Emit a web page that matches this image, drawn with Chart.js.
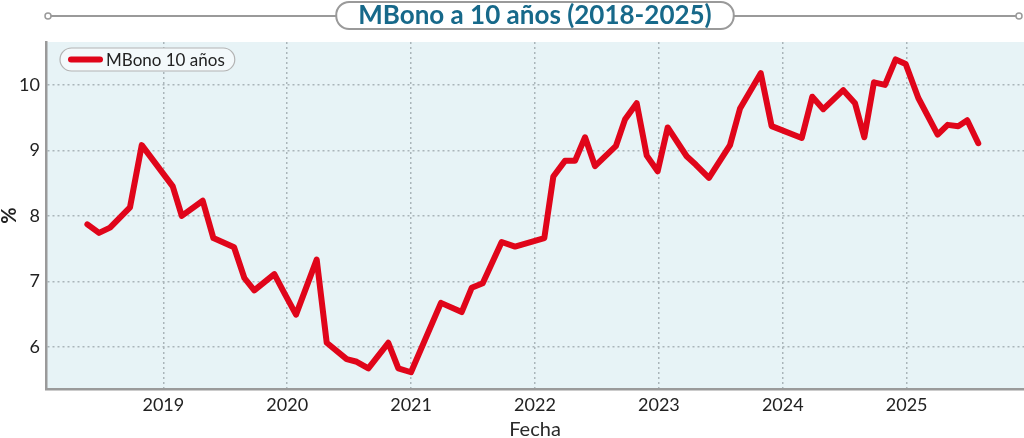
<!DOCTYPE html>
<html>
<head>
<meta charset="utf-8">
<script src="https://cdn.jsdelivr.net/npm/chart.js@4.4.1/dist/chart.umd.min.js"></script>
<style>
  html, body { margin: 0; padding: 0; background: #fff; }
  #wrap { width: 1024px; height: 438px; }
</style>
</head>
<body>
<div id="wrap"><canvas id="mbonoChart"></canvas></div>
<script>
// Datos (fecha en años decimales, rendimiento en %)
const fechas = [
  2018.387, 2018.481, 2018.570, 2018.731, 2018.826, 2019.076, 2019.149, 2019.318,
  2019.404, 2019.571, 2019.654, 2019.734, 2019.896, 2019.977, 2020.071, 2020.238,
  2020.319, 2020.480, 2020.561, 2020.655, 2020.816, 2020.897, 2020.999, 2021.241,
  2021.408, 2021.489, 2021.578, 2021.731, 2021.839, 2022.075, 2022.148, 2022.242,
  2022.323, 2022.404, 2022.484, 2022.654, 2022.726, 2022.821, 2022.902, 2022.990,
  2023.071, 2023.224, 2023.299, 2023.404, 2023.574, 2023.655, 2023.822, 2023.910,
  2024.153, 2024.238, 2024.327, 2024.488, 2024.583, 2024.658, 2024.736, 2024.825,
  2024.911, 2024.992, 2025.094, 2025.250, 2025.331, 2025.416, 2025.489, 2025.578
];
const rendimiento = [
  7.87, 7.74, 7.82, 8.13, 9.08, 8.45, 8.00, 8.23,
  7.66, 7.52, 7.05, 6.86, 7.11, 6.82, 6.49, 7.33,
  6.06, 5.81, 5.77, 5.67, 6.06, 5.67, 5.61, 6.67,
  6.53, 6.90, 6.97, 7.60, 7.53, 7.66, 8.60, 8.84,
  8.84, 9.20, 8.76, 9.07, 9.47, 9.72, 8.92, 8.68,
  9.35, 8.91, 8.78, 8.58, 9.08, 9.64, 10.18, 9.37,
  9.19, 9.82, 9.63, 9.92, 9.72, 9.20, 10.04, 10.00,
  10.39, 10.32, 9.80, 9.24, 9.39, 9.37, 9.46, 9.11
];
const yTicks = [6, 7, 8, 9, 10];
const xTicks = [2019, 2020, 2021, 2022, 2023, 2024, 2025];

const titulo = 'MBono a 10 años (2018-2025)';
const serie = 'MBono 10 años';
const rojo = '#e0051a';
const gris = '#9a9a9a';
const fuente = 'Lato, "Open Sans", sans-serif';

// Fondo del área de gráfica + marco del título
const decorPlugin = {
  id: 'decor',
  beforeDraw(chart) {
    const { ctx, chartArea } = chart;
    ctx.save();
    ctx.fillStyle = '#e7f3f6';
    ctx.fillRect(chartArea.left, chartArea.top, chartArea.right - chartArea.left, chartArea.bottom - chartArea.top);

    const tb = chart.titleBlock;
    const opts = chart.options.plugins.title;
    ctx.font = `${opts.font.weight} ${opts.font.size}px ${opts.font.family}`;
    const w = ctx.measureText(titulo).width;
    const cx = (tb.left + tb.right) / 2;
    const cy = 16;
    const bx = cx - w / 2 - 22, bw = w + 44, by = 2, bh = 27;

    ctx.strokeStyle = gris;
    ctx.lineWidth = 2;
    ctx.beginPath();
    ctx.moveTo(51, cy); ctx.lineTo(bx, cy);
    ctx.moveTo(bx + bw, cy); ctx.lineTo(1016, cy);
    ctx.stroke();
    [48, 1019].forEach(x => {
      ctx.beginPath();
      ctx.arc(x, cy, 3, 0, Math.PI * 2);
      ctx.fillStyle = '#fff';
      ctx.fill();
      ctx.lineWidth = 1.5;
      ctx.stroke();
    });

    ctx.beginPath();
    ctx.roundRect(bx, by, bw, bh, 13);
    ctx.fillStyle = '#fff';
    ctx.fill();
    ctx.lineWidth = 2;
    ctx.stroke();
    ctx.restore();
  }
};

// Leyenda dentro del área de gráfica
const legendPlugin = {
  id: 'legendInside',
  afterDraw(chart) {
    const { ctx, chartArea } = chart;
    const ds = chart.data.datasets[0];
    const x = chartArea.left + 14, y = chartArea.top + 6;
    ctx.save();
    ctx.font = `17px ${fuente}`;
    const tw = ctx.measureText(ds.label).width;
    const w = 46 + tw + 10, h = 23;
    ctx.beginPath();
    ctx.roundRect(x, y, w, h, 11.5);
    ctx.fillStyle = '#f3f9fb';
    ctx.fill();
    ctx.strokeStyle = '#b3b3b3';
    ctx.lineWidth = 1.2;
    ctx.stroke();

    ctx.beginPath();
    ctx.moveTo(x + 11, y + h / 2);
    ctx.lineTo(x + 40, y + h / 2);
    ctx.strokeStyle = ds.borderColor;
    ctx.lineWidth = 6;
    ctx.lineCap = 'round';
    ctx.stroke();

    ctx.fillStyle = '#222';
    ctx.textBaseline = 'middle';
    ctx.fillText(ds.label, x + 46, y + h / 2 + 1);
    ctx.restore();
  }
};

const ctx = document.getElementById('mbonoChart').getContext('2d');
new Chart(ctx, {
  type: 'line',
  data: {
    datasets: [{
      label: serie,
      data: fechas.map((f, i) => ({ x: f, y: rendimiento[i] })),
      borderColor: rojo,
      borderWidth: 6,
      borderJoinStyle: 'round',
      borderCapStyle: 'round',
      pointRadius: 0,
      tension: 0,
      fill: false
    }]
  },
  options: {
    responsive: true,
    maintainAspectRatio: false,
    animation: false,
    layout: { padding: { left: 0, right: 0, top: 0, bottom: 0 } },
    plugins: {
      legend: { display: false },
      tooltip: { enabled: false },
      title: {
        display: true,
        text: titulo,
        fullSize: false,
        color: '#17698a',
        font: { family: fuente, size: 26, weight: 'bold', lineHeight: 1.2 },
        padding: { top: 0.5, bottom: 10.3 }
      }
    },
    scales: {
      x: {
        type: 'linear',
        min: 2018.053,
        max: 2025.947,
        afterBuildTicks: scale => { scale.ticks = xTicks.map(v => ({ value: v })); },
        afterFit: scale => { scale.height = 49; },
        ticks: {
          color: '#222',
          font: { family: fuente, size: 18 },
          padding: 5,
          maxRotation: 0,
          callback: v => String(v)
        },
        grid: { color: '#aab5b9', lineWidth: 1.5, drawTicks: false },
        border: { color: gris, width: 2.5, dash: [2, 3] },
        title: {
          display: true,
          text: 'Fecha',
          color: '#2a2a2a',
          font: { family: fuente, size: 20, lineHeight: 0.8 },
          padding: { top: 0, bottom: 0 }
        }
      },
      y: {
        min: 5.354,
        max: 10.656,
        afterBuildTicks: scale => { scale.ticks = yTicks.map(v => ({ value: v })); },
        afterFit: scale => { scale.width = 46; },
        ticks: {
          color: '#222',
          font: { family: fuente, size: 18 },
          padding: 6
        },
        grid: { color: '#aab5b9', lineWidth: 1.5, drawTicks: false },
        border: { color: gris, width: 2.5, dash: [2, 3] },
        title: {
          display: true,
          text: '%',
          color: '#222',
          font: { family: fuente, size: 20, weight: 'bold', lineHeight: 1 },
          padding: { top: 0, bottom: 0 }
        }
      }
    }
  },
  plugins: [decorPlugin, legendPlugin]
});
</script>
</body>
</html>
